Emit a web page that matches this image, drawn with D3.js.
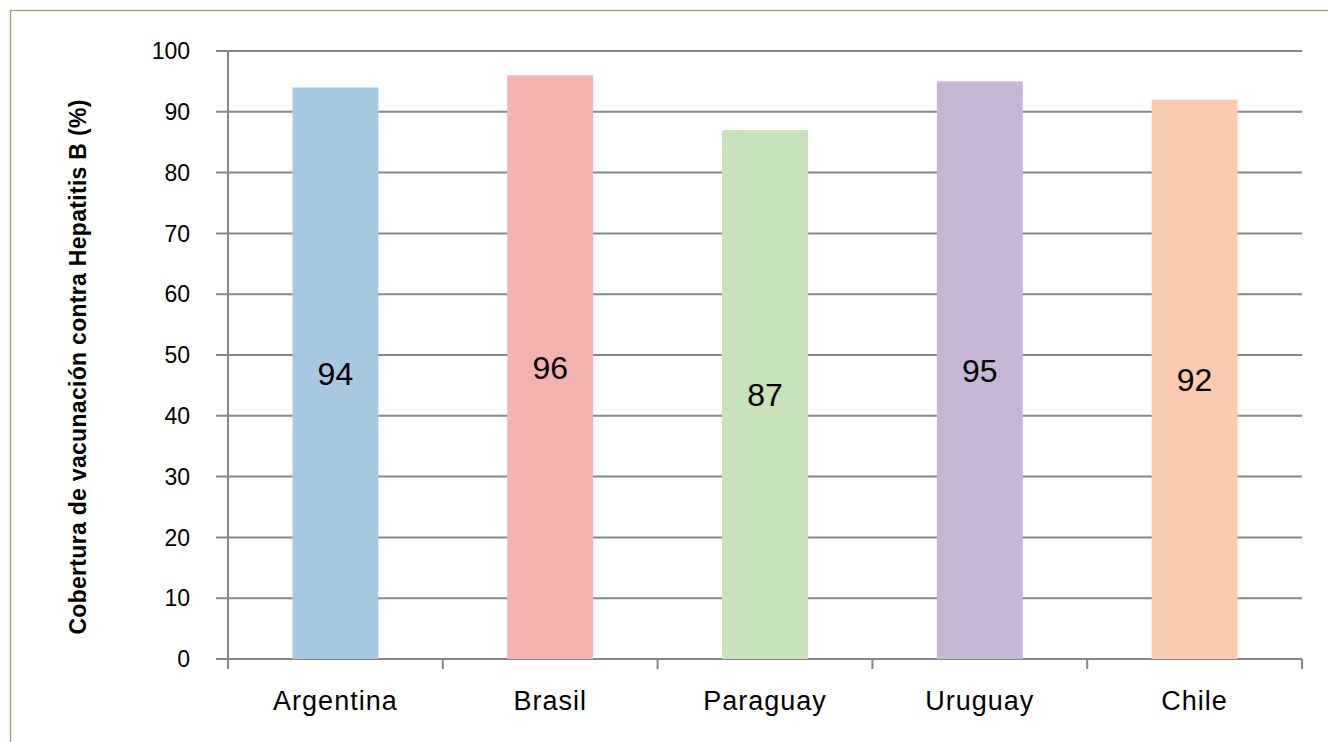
<!DOCTYPE html>
<html>
<head>
<meta charset="utf-8">
<script src="https://cdn.jsdelivr.net/npm/d3@7"></script>
<style>
  body { margin: 0; background: #fff; }
  svg { display: block; font-family: "Liberation Sans", Arial, sans-serif; }
</style>
</head>
<body>
<div id="chart"></div>
<script>
const countries = ['Argentina', 'Brasil', 'Paraguay', 'Uruguay', 'Chile'];
const coverage = [94, 96, 87, 95, 92];
const barColors = ['#a6c8e1', '#f4b3b1', '#c8e2b9', '#c6b8d4', '#facbae'];
const yTicks = [0, 10, 20, 30, 40, 50, 60, 70, 80, 90, 100];
const yTitle = 'Cobertura de vacunación contra Hepatitis B (%)';

const W = 1328, H = 742;
const margin = { top: 51, right: 26, bottom: 83, left: 228 };
const gridColor = '#878787';

const svg = d3.select('#chart').append('svg').attr('width', W).attr('height', H);

// outer frame
svg.append('rect')
  .attr('x', 10.5).attr('y', 10.5)
  .attr('width', W + 20).attr('height', H + 20)
  .attr('fill', 'none').attr('stroke', '#b38d66').attr('stroke-width', 1.2);

const x = d3.scaleBand()
  .domain(countries)
  .range([margin.left, W - margin.right])
  .paddingInner(0.6).paddingOuter(0.3);

const xOuter = d3.scaleBand()
  .domain(countries)
  .range([margin.left, W - margin.right]);

const y = d3.scaleLinear()
  .domain([0, 100])
  .range([H - margin.bottom, margin.top]);

// gridlines + y ticks
svg.append('g')
  .selectAll('line')
  .data(yTicks)
  .join('line')
  .attr('x1', margin.left - 12)
  .attr('x2', W - margin.right)
  .attr('y1', d => y(d))
  .attr('y2', d => y(d))
  .attr('stroke', gridColor)
  .attr('stroke-width', 2);

svg.append('g')
  .selectAll('text')
  .data(yTicks)
  .join('text')
  .attr('x', margin.left - 38)
  .attr('y', d => y(d))
  .attr('dy', '0.36em')
  .attr('text-anchor', 'end')
  .attr('font-size', 23)
  .attr('fill', '#000')
  .text(d => d);

// bars
const bars = svg.append('g')
  .selectAll('g')
  .data(countries.map((c, i) => ({ name: c, value: coverage[i], color: barColors[i] })))
  .join('g');

bars.append('rect')
  .attr('x', d => x(d.name))
  .attr('width', x.bandwidth())
  .attr('y', d => y(d.value))
  .attr('height', d => y(0) - y(d.value))
  .attr('fill', d => d.color);

bars.append('text')
  .attr('x', d => x(d.name) + x.bandwidth() / 2)
  .attr('y', d => (y(d.value) + y(0)) / 2)
  .attr('dy', '0.36em')
  .attr('text-anchor', 'middle')
  .attr('font-size', 32)
  .attr('fill', '#000')
  .text(d => d.value);

// axes lines
svg.append('line')
  .attr('x1', margin.left).attr('x2', margin.left)
  .attr('y1', margin.top).attr('y2', y(0) + 10)
  .attr('stroke', gridColor).attr('stroke-width', 2);

const xTickPos = countries.map(c => xOuter(c)).concat([W - margin.right]);
svg.append('g')
  .selectAll('line')
  .data(xTickPos)
  .join('line')
  .attr('x1', d => d).attr('x2', d => d)
  .attr('y1', y(0)).attr('y2', y(0) + 10)
  .attr('stroke', gridColor).attr('stroke-width', 2);

svg.append('g')
  .selectAll('text')
  .data(countries)
  .join('text')
  .attr('x', d => xOuter(d) + xOuter.bandwidth() / 2)
  .attr('y', y(0) + 51)
  .attr('text-anchor', 'middle')
  .attr('font-size', 27)
  .attr('letter-spacing', 1)
  .attr('fill', '#000')
  .text(d => d);

// y title
svg.append('text')
  .attr('transform', `translate(86,367) rotate(-90)`)
  .attr('text-anchor', 'middle')
  .attr('font-size', 23)
  .attr('letter-spacing', 0.3)
  .attr('font-weight', 'bold')
  .attr('fill', '#000')
  .text(yTitle);
</script>
</body>
</html>
